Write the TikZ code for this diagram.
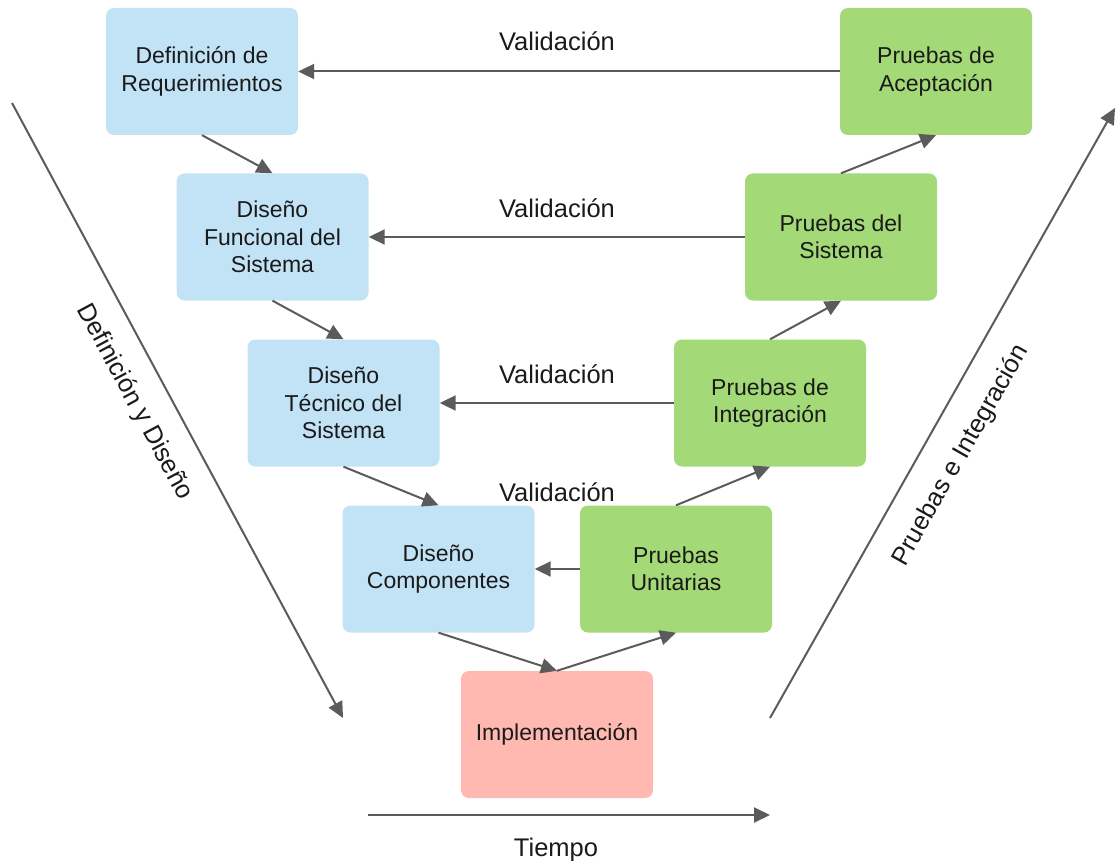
\documentclass[tikz,border=0pt]{standalone}
\usepackage{fontspec}
\setmainfont{Liberation Sans}
\usetikzlibrary{arrows.meta}
\definecolor{designblue}{HTML}{C2E3F5}
\definecolor{testgreen}{HTML}{A3D977}
\definecolor{implpink}{HTML}{FFB9B0}
\definecolor{linegray}{HTML}{5B5B5B}
\definecolor{inkblack}{HTML}{1A1A1A}
\tikzset{
  phase/.style={rounded corners=8pt, minimum width=192pt, minimum height=127pt,
    align=center, text=inkblack, inner sep=2pt,
    font=\fontsize{23}{27.5}\selectfont},
  design/.style={phase, fill=designblue},
  testing/.style={phase, fill=testgreen},
  build/.style={phase, fill=implpink},
  flow/.style={draw=linegray, line width=2pt,
    -{Triangle[length=16pt,width=15pt]}},
  caption/.style={text=inkblack, inner sep=0pt,
    font=\fontsize{25.5}{30}\selectfont}
}
\begin{document}
\begin{tikzpicture}[x=1pt,y=-1pt]
\useasboundingbox (0,0) rectangle (1118,861);

% left branch: definition and design
\node[design] (req)  at (202,71.5)  {Definición de\\Requerimientos};
\node[design] (fun)  at (272.5,237) {Diseño\\Funcional del\\Sistema};
\node[design] (tec)  at (343.5,403) {Diseño\\Técnico del\\Sistema};
\node[design] (comp) at (438.5,569) {Diseño\\Componentes};

% bottom of the V
\node[build] (impl) at (557,734.5) {Implementación};

% right branch: testing
\node[testing] (uni)  at (676,569)  {Pruebas\\Unitarias};
\node[testing] (integ) at (770,403) {Pruebas de\\Integración};
\node[testing] (sis)  at (841,237)  {Pruebas del\\Sistema};
\node[testing] (acep) at (936,71.5) {Pruebas de\\Aceptación};

% descending flow
\draw[flow] (req.south)  -- (fun.north);
\draw[flow] (fun.south)  -- (tec.north);
\draw[flow] (tec.south)  -- (comp.north);
\draw[flow] (comp.south) -- (impl.north);

% ascending flow
\draw[flow] (impl.north) -- (uni.south);
\draw[flow] (uni.north)  -- (integ.south);
\draw[flow] (integ.north) -- (sis.south);
\draw[flow] (sis.north)  -- (acep.south);

% validation links
\draw[flow] (acep.west)  -- (req.east);
\draw[flow] (sis.west)   -- (fun.east);
\draw[flow] (integ.west) -- (tec.east);
\draw[flow] (uni.west)   -- (comp.east);

\node[caption, anchor=base] (v1) at (557,51)  {Validación};
\node[caption, anchor=base] (v2) at (557,217) {Validación};
\node[caption, anchor=base] (v3) at (557,383) {Validación};
\node[caption, anchor=base] (v4) at (557,501) {Validación};

% phase axes
\coordinate (dtop) at (12,103);
\coordinate (dend) at (343,718);
\draw[flow] (dtop) -- node[caption, pos=0.46, sloped, below=21pt] (dlab) {Definición y Diseño} (dend);

\coordinate (ibot) at (770,718);
\coordinate (iend) at (1115,108);
\draw[flow] (ibot) -- node[caption, pos=0.46, sloped, below=24pt] (ilab) {Pruebas e Integración} (iend);

% time axis
\coordinate (tstart) at (368,815);
\coordinate (tend) at (770,815);
\draw[flow] (tstart) -- (tend);
\node[caption, anchor=base] (tlab) at (556,856) {Tiempo};
\end{tikzpicture}
\end{document}
